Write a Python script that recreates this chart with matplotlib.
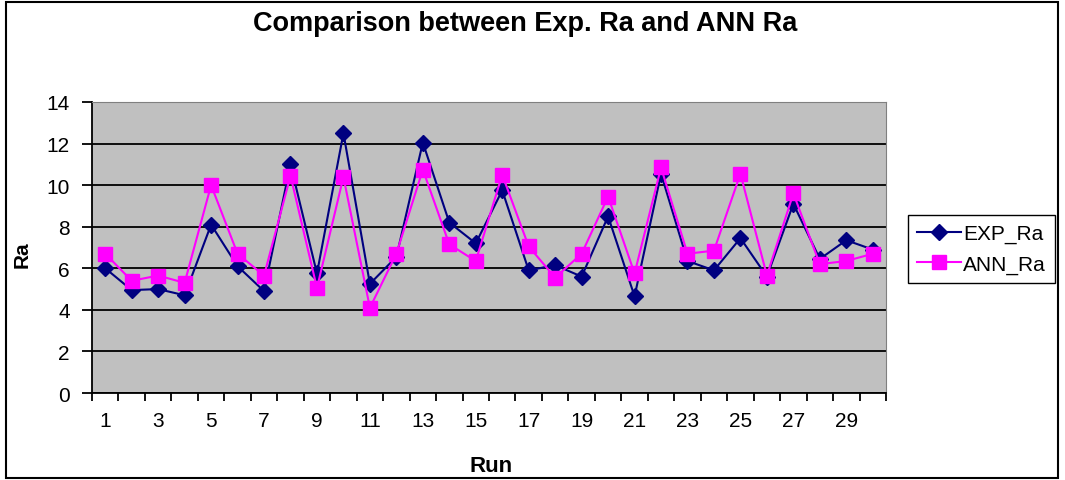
import matplotlib.pyplot as plt
import numpy as np
from matplotlib.patches import Rectangle

plt.rcParams['font.family'] = ['Liberation Sans', 'DejaVu Sans']

runs = list(range(1, 31))
exp_ra = [6.0, 4.95, 5.0, 4.7, 8.1, 6.1, 4.9, 11.0, 5.75, 12.5,
          5.25, 6.55, 12.05, 8.2, 7.2, 9.75, 5.9, 6.15, 5.6, 8.5,
          4.65, 10.55, 6.35, 5.9, 7.45, 5.6, 9.1, 6.45, 7.35, 6.9]
ann_ra = [6.7, 5.4, 5.65, 5.3, 10.0, 6.7, 5.65, 10.45, 5.05, 10.4,
          4.1, 6.7, 10.75, 7.15, 6.35, 10.5, 7.05, 5.55, 6.7, 9.45,
          5.75, 10.85, 6.7, 6.85, 10.55, 5.65, 9.6, 6.2, 6.35, 6.7]
odd_labels = [str(r) for r in runs if r % 2 == 1]

W, H = 1065, 481
fig = plt.figure(figsize=(W / 100, H / 100), dpi=100)
ax = fig.add_axes([92 / W, 1 - 394 / H, 794 / W, 291 / H])
ax.set_facecolor('#c0c0c0')

ax.plot(runs, exp_ra, color='#000080', lw=1.5, marker='D', ms=8,
        label='EXP_Ra', zorder=3)
ax.plot(runs, ann_ra, color='#ff00ff', lw=1.5, marker='s', ms=10,
        label='ANN_Ra', zorder=4)

ax.set_xlim(0.5, 30.5)
ax.set_ylim(0, 14)
ax.set_yticks(np.arange(0, 15, 2))
ax.yaxis.grid(True, color='black', lw=1.3)
ax.set_axisbelow(True)

# ticks sit on category boundaries, labels on every other category
ax.set_xticks(np.arange(0.5, 31, 1))
ax.set_xticklabels([])
ax.set_xticks([r for r in runs if r % 2 == 1], minor=True)
ax.set_xticklabels(odd_labels, minor=True)
ax.tick_params(axis='x', which='major', direction='out', length=6, width=1.3)
ax.tick_params(axis='x', which='minor', length=0, pad=13, labelsize=15)
ax.tick_params(axis='y', direction='out', length=7, width=1.3, labelsize=15, pad=9)

for side in ['top', 'right']:
    ax.spines[side].set_color('#808080')
for side in ['left', 'bottom']:
    ax.spines[side].set_color('black')
    ax.spines[side].set_linewidth(1.3)

fig.text(491 / W, 1 - 467 / H, 'Run', ha='center', va='center',
         fontsize=16, fontweight='bold')
fig.text(22 / W, 1 - 255 / H, 'Ra', ha='center', va='center', rotation=90,
         fontsize=15, fontweight='bold')
fig.text(525 / W, 1 - 24 / H, 'Comparison between Exp. Ra and ANN Ra',
         ha='center', va='center', fontsize=19.5, fontweight='bold')

leg = ax.legend(loc='center left', bbox_to_anchor=(908 / W, 1 - 250 / H),
                bbox_transform=fig.transFigure, fancybox=False,
                edgecolor='black', framealpha=1, fontsize=15,
                handlelength=2.1, borderpad=0.45, labelspacing=0.55,
                handletextpad=0.1, borderaxespad=0)
leg.get_frame().set_linewidth(1.0)

# outer chart border
fig.patches.append(Rectangle((6 / W, 2 / H), 1052 / W, 476 / H,
                             transform=fig.transFigure, fill=False,
                             edgecolor='black', lw=1.5))

fig.savefig('out.png', dpi=100)
